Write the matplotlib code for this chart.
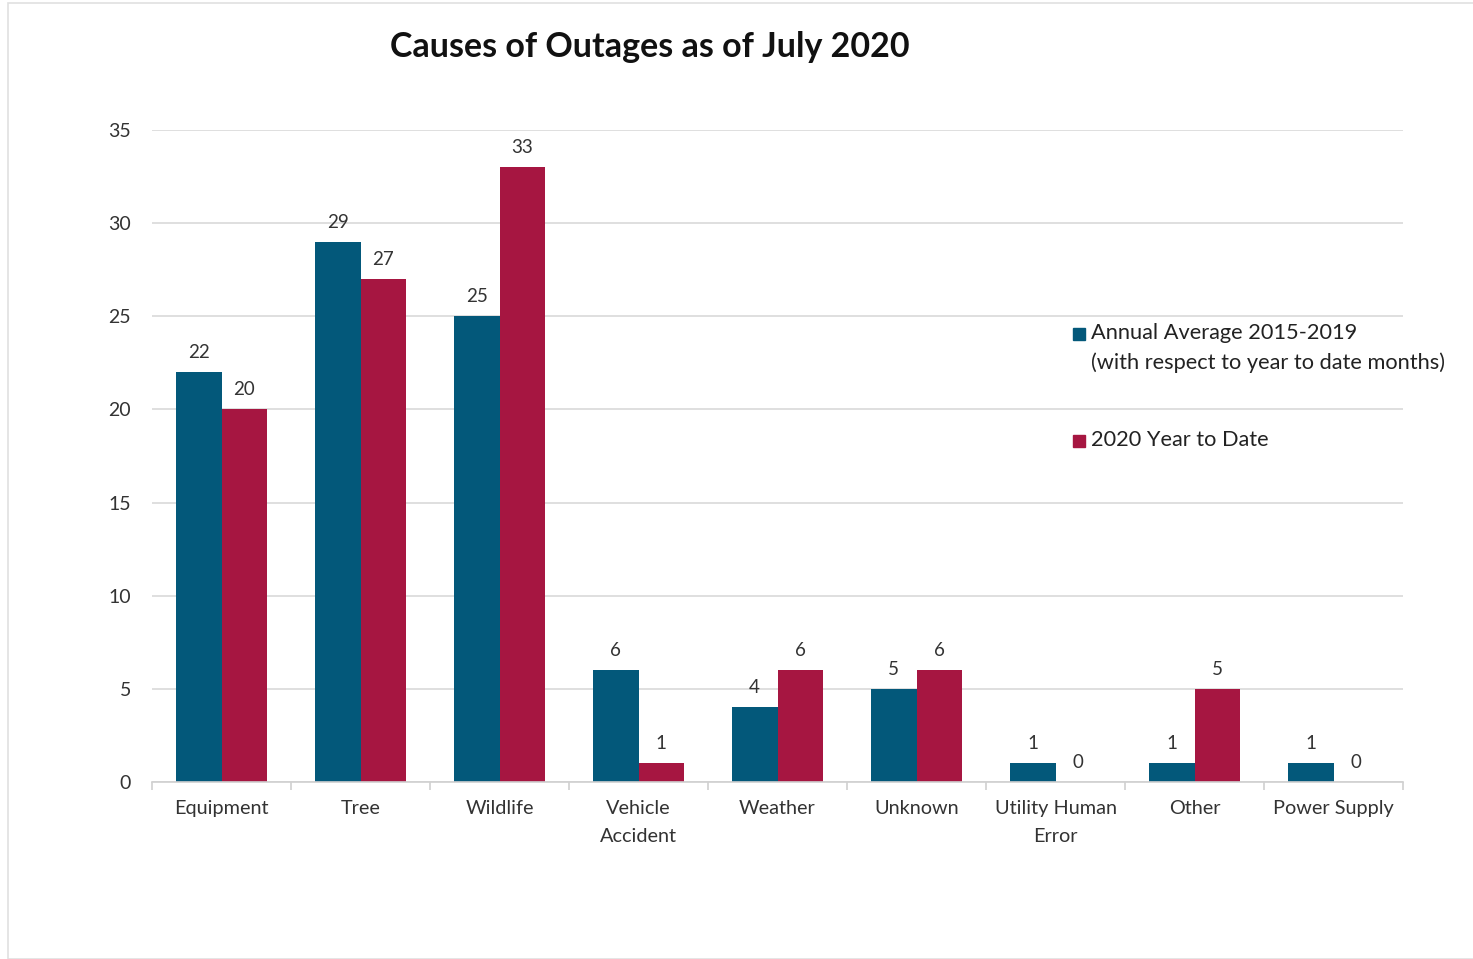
import numpy as np
import matplotlib.pyplot as plt
from matplotlib.patches import Rectangle

categories = ['Equipment', 'Tree', 'Wildlife', 'Vehicle\nAccident', 'Weather',
              'Unknown', 'Utility Human\nError', 'Other', 'Power Supply']
avg_2015_2019 = [22, 29, 25, 6, 4, 5, 1, 1, 1]
ytd_2020 = [20, 27, 33, 1, 6, 6, 0, 5, 0]
series_names = ['Annual Average 2015-2019\n(with respect to year to date months)',
                '2020 Year to Date']
y_ticks = [0, 5, 10, 15, 20, 25, 30, 35]

blue = '#03587A'
red = '#A61641'
font = 'Lato'

plt.rcParams['font.family'] = [font, 'DejaVu Sans']

fig = plt.figure(figsize=(14.73, 9.59), dpi=100)
ax = fig.add_axes([152 / 1473, 1 - 782 / 959, (1403 - 152) / 1473, (782 - 130) / 959])

# light frame around the chart area
fig.patches.append(Rectangle((8 / 1473, 0), 1, 1 - 3 / 959, transform=fig.transFigure,
                             fill=False, edgecolor='#E0E0E0', lw=1.2))

x = np.arange(len(categories))
w = 0.33
b1 = ax.bar(x - w / 2, avg_2015_2019, w, color=blue)
b2 = ax.bar(x + w / 2, ytd_2020, w, color=red)

for bars in (b1, b2):
    for rect in bars:
        h = rect.get_height()
        ax.annotate(f'{int(h)}', (rect.get_x() + rect.get_width() / 2, h),
                    xytext=(0, 8), textcoords='offset points', ha='center', va='bottom',
                    fontsize=13.5, color='#333333')

ax.set_xlim(-0.5, len(categories) - 0.5)
ax.set_ylim(0, 35)
ax.set_yticks(y_ticks)
ax.yaxis.grid(True, color='#D9D9D9', lw=1.2)
ax.set_axisbelow(True)
for s in ['top', 'right', 'left']:
    ax.spines[s].set_visible(False)
ax.spines['bottom'].set_color('#D0D0D0')
ax.spines['bottom'].set_linewidth(1.2)

ax.set_xticks(x)
ax.set_xticklabels(categories, fontsize=14.3, color='#333333', linespacing=1.75)
ax.set_xticks(np.arange(len(categories) + 1) - 0.5, minor=True)
ax.tick_params(axis='x', which='major', length=0, pad=13)
ax.tick_params(axis='x', which='minor', length=6, color='#D0D0D0', width=1.2)
ax.tick_params(axis='y', length=0, pad=15, labelsize=14, labelcolor='#333333')

fig.text(650 / 1473, 1 - 47 / 959, 'Causes of Outages as of July 2020', ha='center', va='center',
         fontsize=24.5, fontweight='bold', color='#111111')

# legend
fig.patches.append(Rectangle((1073 / 1473, 1 - 340 / 959), 12 / 1473, 12 / 959,
                             transform=fig.transFigure, color=blue))
fig.text(1091 / 1473, 1 - 333 / 959, series_names[0].split('\n')[0], ha='left', va='center',
         fontsize=15.7, color='#222222')
fig.text(1091 / 1473, 1 - 363 / 959, series_names[0].split('\n')[1], ha='left', va='center',
         fontsize=15.7, color='#222222')
fig.patches.append(Rectangle((1073 / 1473, 1 - 447 / 959), 12 / 1473, 12 / 959,
                             transform=fig.transFigure, color=red))
fig.text(1091 / 1473, 1 - 440 / 959, series_names[1], ha='left', va='center',
         fontsize=15.7, color='#222222')

fig.savefig('out.png', dpi=100)
